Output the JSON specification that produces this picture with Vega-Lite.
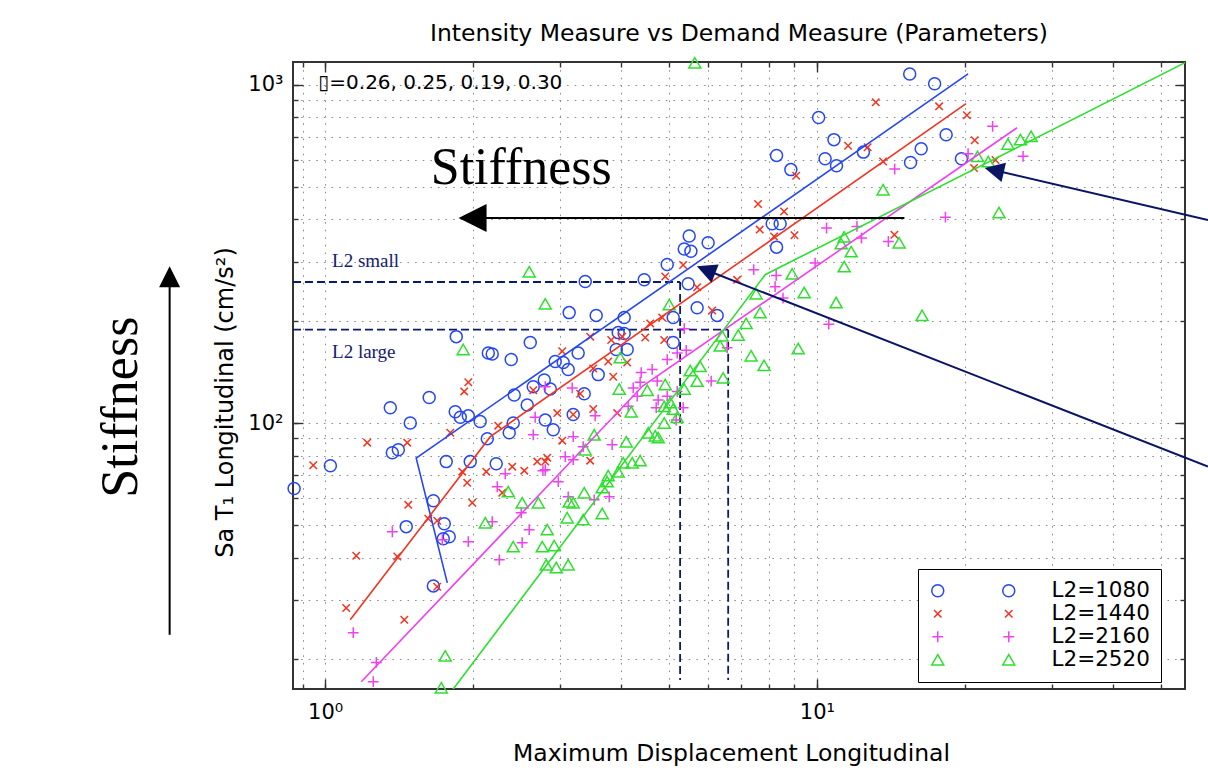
{
  "$schema": "https://vega.github.io/schema/vega-lite/v6.json",
  "width": 892,
  "height": 627,
  "autosize": {"type": "none"},
  "padding": {"left": 293, "top": 62, "right": 23, "bottom": 86},
  "background": "white",
  "title": {
    "text": "Intensity Measure vs Demand Measure (Parameters)",
    "font": "DejaVu Sans",
    "fontSize": 23.5,
    "fontWeight": "normal",
    "color": "black",
    "anchor": "middle",
    "frame": "group",
    "baseline": "alphabetic",
    "offset": 20,
    "dy": 30
  },
  "config": {
    "view": {"stroke": "#333333", "strokeWidth": 2},
    "axis": {
      "domain": false,
      "tickColor": "#333333",
      "tickWidth": 1.4,
      "labelFont": "DejaVu Sans",
      "labelFontSize": 21,
      "labelColor": "black",
      "labelFlush": false,
      "labelOverlap": false,
      "labelBound": false,
      "titleFont": "DejaVu Sans",
      "titleFontSize": 23.5,
      "titleFontWeight": "normal",
      "titleColor": "black",
      "gridColor": "#8c8c8c",
      "gridDash": [1.6, 6],
      "gridWidth": 1,
      "gridOpacity": 1
    }
  },
  "datasets": {
    "markers": [
      {"series": "L2=1080", "disp": 15.44, "sa": 1076}, {"series": "L2=1080", "disp": 17.35, "sa": 1007},
      {"series": "L2=1080", "disp": 10.08, "sa": 800}, {"series": "L2=1080", "disp": 10.83, "sa": 688},
      {"series": "L2=1080", "disp": 8.278, "sa": 618}, {"series": "L2=1080", "disp": 8.851, "sa": 561},
      {"series": "L2=1080", "disp": 10.39, "sa": 604}, {"series": "L2=1080", "disp": 10.96, "sa": 576},
      {"series": "L2=1080", "disp": 12.43, "sa": 632}, {"series": "L2=1080", "disp": 18.31, "sa": 711},
      {"series": "L2=1080", "disp": 16.29, "sa": 647}, {"series": "L2=1080", "disp": 15.5, "sa": 589},
      {"series": "L2=1080", "disp": 19.67, "sa": 604}, {"series": "L2=1080", "disp": 8.11, "sa": 388},
      {"series": "L2=1080", "disp": 8.418, "sa": 388}, {"series": "L2=1080", "disp": 8.278, "sa": 331},
      {"series": "L2=1080", "disp": 5.499, "sa": 357}, {"series": "L2=1080", "disp": 5.373, "sa": 327},
      {"series": "L2=1080", "disp": 5.543, "sa": 322}, {"series": "L2=1080", "disp": 6.009, "sa": 341},
      {"series": "L2=1080", "disp": 4.961, "sa": 294}, {"series": "L2=1080", "disp": 4.455, "sa": 265},
      {"series": "L2=1080", "disp": 3.38, "sa": 262}, {"series": "L2=1080", "disp": 5.473, "sa": 258},
      {"series": "L2=1080", "disp": 5.707, "sa": 219}, {"series": "L2=1080", "disp": 6.268, "sa": 208},
      {"series": "L2=1080", "disp": 3.135, "sa": 212}, {"series": "L2=1080", "disp": 3.558, "sa": 208},
      {"series": "L2=1080", "disp": 4.056, "sa": 205}, {"series": "L2=1080", "disp": 5.102, "sa": 205},
      {"series": "L2=1080", "disp": 3.944, "sa": 185}, {"series": "L2=1080", "disp": 4.056, "sa": 184},
      {"series": "L2=1080", "disp": 5.102, "sa": 173}, {"series": "L2=1080", "disp": 3.908, "sa": 165},
      {"series": "L2=1080", "disp": 4.114, "sa": 165}, {"series": "L2=1080", "disp": 3.27, "sa": 161},
      {"series": "L2=1080", "disp": 2.937, "sa": 152}, {"series": "L2=1080", "disp": 3.049, "sa": 151},
      {"series": "L2=1080", "disp": 3.121, "sa": 144}, {"series": "L2=1080", "disp": 3.592, "sa": 139},
      {"series": "L2=1080", "disp": 2.79, "sa": 134}, {"series": "L2=1080", "disp": 2.87, "sa": 126},
      {"series": "L2=1080", "disp": 3.364, "sa": 122}, {"series": "L2=1080", "disp": 3.195, "sa": 106},
      {"series": "L2=1080", "disp": 2.803, "sa": 102}, {"series": "L2=1080", "disp": 2.91, "sa": 95.5},
      {"series": "L2=1080", "disp": 1.848, "sa": 180}, {"series": "L2=1080", "disp": 2.613, "sa": 173},
      {"series": "L2=1080", "disp": 2.147, "sa": 161}, {"series": "L2=1080", "disp": 2.187, "sa": 160},
      {"series": "L2=1080", "disp": 2.39, "sa": 154}, {"series": "L2=1080", "disp": 2.65, "sa": 128},
      {"series": "L2=1080", "disp": 2.424, "sa": 121}, {"series": "L2=1080", "disp": 2.576, "sa": 113},
      {"series": "L2=1080", "disp": 1.628, "sa": 119}, {"series": "L2=1080", "disp": 1.357, "sa": 111},
      {"series": "L2=1080", "disp": 1.839, "sa": 108}, {"series": "L2=1080", "disp": 1.883, "sa": 104},
      {"series": "L2=1080", "disp": 1.955, "sa": 105}, {"series": "L2=1080", "disp": 1.49, "sa": 100},
      {"series": "L2=1080", "disp": 2.067, "sa": 101}, {"series": "L2=1080", "disp": 2.413, "sa": 100},
      {"series": "L2=1080", "disp": 2.368, "sa": 93.6}, {"series": "L2=1080", "disp": 2.137, "sa": 89.9},
      {"series": "L2=1080", "disp": 1.37, "sa": 81.7}, {"series": "L2=1080", "disp": 1.409, "sa": 83.4},
      {"series": "L2=1080", "disp": 1.025, "sa": 74.8}, {"series": "L2=1080", "disp": 1.763, "sa": 76.9},
      {"series": "L2=1080", "disp": 1.973, "sa": 76.9}, {"series": "L2=1080", "disp": 2.228, "sa": 75.8},
      {"series": "L2=1080", "disp": 1.66, "sa": 58.9}, {"series": "L2=1080", "disp": 1.462, "sa": 49.4},
      {"series": "L2=1080", "disp": 1.747, "sa": 50.4}, {"series": "L2=1080", "disp": 1.739, "sa": 45.5},
      {"series": "L2=1080", "disp": 1.788, "sa": 46.1}, {"series": "L2=1080", "disp": 1.66, "sa": 33.0},
      {"series": "L2=1080", "disp": 0.865, "sa": 64.0},

      {"series": "L2=1440", "disp": 13.17, "sa": 887}, {"series": "L2=1440", "disp": 17.72, "sa": 863},
      {"series": "L2=1440", "disp": 20.18, "sa": 812}, {"series": "L2=1440", "disp": 11.57, "sa": 660},
      {"series": "L2=1440", "disp": 12.68, "sa": 653}, {"series": "L2=1440", "disp": 20.93, "sa": 685},
      {"series": "L2=1440", "disp": 13.63, "sa": 593}, {"series": "L2=1440", "disp": 9.074, "sa": 538},
      {"series": "L2=1440", "disp": 7.59, "sa": 444}, {"series": "L2=1440", "disp": 8.573, "sa": 422},
      {"series": "L2=1440", "disp": 7.65, "sa": 373}, {"series": "L2=1440", "disp": 8.182, "sa": 356},
      {"series": "L2=1440", "disp": 9.002, "sa": 359}, {"series": "L2=1440", "disp": 14.37, "sa": 360},
      {"series": "L2=1440", "disp": 23.07, "sa": 599}, {"series": "L2=1440", "disp": 20.86, "sa": 567},
      {"series": "L2=1440", "disp": 5.345, "sa": 293}, {"series": "L2=1440", "disp": 4.915, "sa": 271},
      {"series": "L2=1440", "disp": 5.707, "sa": 252}, {"series": "L2=1440", "disp": 6.882, "sa": 265},
      {"series": "L2=1440", "disp": 6.124, "sa": 215}, {"series": "L2=1440", "disp": 4.846, "sa": 205},
      {"series": "L2=1440", "disp": 4.581, "sa": 197}, {"series": "L2=1440", "disp": 4.476, "sa": 179},
      {"series": "L2=1440", "disp": 4.892, "sa": 176}, {"series": "L2=1440", "disp": 3.459, "sa": 180},
      {"series": "L2=1440", "disp": 3.817, "sa": 176}, {"series": "L2=1440", "disp": 4.019, "sa": 180},
      {"series": "L2=1440", "disp": 3.035, "sa": 163}, {"series": "L2=1440", "disp": 3.509, "sa": 145},
      {"series": "L2=1440", "disp": 3.853, "sa": 137}, {"series": "L2=1440", "disp": 3.764, "sa": 152},
      {"series": "L2=1440", "disp": 4.114, "sa": 151}, {"series": "L2=1440", "disp": 1.918, "sa": 124},
      {"series": "L2=1440", "disp": 1.955, "sa": 132}, {"series": "L2=1440", "disp": 2.65, "sa": 125},
      {"series": "L2=1440", "disp": 3.301, "sa": 122}, {"series": "L2=1440", "disp": 3.195, "sa": 106},
      {"series": "L2=1440", "disp": 2.965, "sa": 107}, {"series": "L2=1440", "disp": 3.926, "sa": 107},
      {"series": "L2=1440", "disp": 3.509, "sa": 110}, {"series": "L2=1440", "disp": 2.249, "sa": 98.2},
      {"series": "L2=1440", "disp": 1.797, "sa": 93.6}, {"series": "L2=1440", "disp": 1.218, "sa": 87.5},
      {"series": "L2=1440", "disp": 1.469, "sa": 87.5}, {"series": "L2=1440", "disp": 3.035, "sa": 88.7},
      {"series": "L2=1440", "disp": 3.459, "sa": 77.4}, {"series": "L2=1440", "disp": 2.402, "sa": 74.3},
      {"series": "L2=1440", "disp": 2.7, "sa": 76.9}, {"series": "L2=1440", "disp": 2.803, "sa": 76.9},
      {"series": "L2=1440", "disp": 0.946, "sa": 75.0}, {"series": "L2=1440", "disp": 2.829, "sa": 79.0},
      {"series": "L2=1440", "disp": 1.9, "sa": 71.8}, {"series": "L2=1440", "disp": 2.127, "sa": 71.8},
      {"series": "L2=1440", "disp": 2.541, "sa": 72.3}, {"series": "L2=1440", "disp": 1.945, "sa": 66.6},
      {"series": "L2=1440", "disp": 1.476, "sa": 57.3}, {"series": "L2=1440", "disp": 1.621, "sa": 52.1},
      {"series": "L2=1440", "disp": 1.69, "sa": 51.4}, {"series": "L2=1440", "disp": 1.992, "sa": 58.1},
      {"series": "L2=1440", "disp": 2.292, "sa": 62.2}, {"series": "L2=1440", "disp": 1.157, "sa": 40.5},
      {"series": "L2=1440", "disp": 1.402, "sa": 40.3}, {"series": "L2=1440", "disp": 1.69, "sa": 32.8},
      {"series": "L2=1440", "disp": 1.104, "sa": 28.4}, {"series": "L2=1440", "disp": 1.449, "sa": 26.2},

      {"series": "L2=2160", "disp": 22.76, "sa": 753}, {"series": "L2=2160", "disp": 26.25, "sa": 614},
      {"series": "L2=2160", "disp": 14.39, "sa": 563}, {"series": "L2=2160", "disp": 18.25, "sa": 406},
      {"series": "L2=2160", "disp": 10.46, "sa": 377}, {"series": "L2=2160", "disp": 12.06, "sa": 381},
      {"series": "L2=2160", "disp": 12.32, "sa": 352}, {"series": "L2=2160", "disp": 13.97, "sa": 344},
      {"series": "L2=2160", "disp": 9.915, "sa": 297}, {"series": "L2=2160", "disp": 7.438, "sa": 284},
      {"series": "L2=2160", "disp": 8.222, "sa": 253}, {"series": "L2=2160", "disp": 8.533, "sa": 234},
      {"series": "L2=2160", "disp": 10.57, "sa": 196}, {"series": "L2=2160", "disp": 20.29, "sa": 625},
      {"series": "L2=2160", "disp": 8.263, "sa": 273}, {"series": "L2=2160", "disp": 5.373, "sa": 190},
      {"series": "L2=2160", "disp": 6.568, "sa": 167}, {"series": "L2=2160", "disp": 4.961, "sa": 154},
      {"series": "L2=2160", "disp": 5.199, "sa": 161}, {"series": "L2=2160", "disp": 5.423, "sa": 164},
      {"series": "L2=2160", "disp": 4.392, "sa": 141}, {"series": "L2=2160", "disp": 4.624, "sa": 144},
      {"series": "L2=2160", "disp": 4.371, "sa": 132}, {"series": "L2=2160", "disp": 6.095, "sa": 133},
      {"series": "L2=2160", "disp": 4.734, "sa": 133}, {"series": "L2=2160", "disp": 4.231, "sa": 127},
      {"series": "L2=2160", "disp": 4.311, "sa": 120}, {"series": "L2=2160", "disp": 4.756, "sa": 117},
      {"series": "L2=2160", "disp": 4.712, "sa": 111}, {"series": "L2=2160", "disp": 4.961, "sa": 120},
      {"series": "L2=2160", "disp": 5.199, "sa": 124}, {"series": "L2=2160", "disp": 5.346, "sa": 111},
      {"series": "L2=2160", "disp": 5.174, "sa": 102}, {"series": "L2=2160", "disp": 2.803, "sa": 128},
      {"series": "L2=2160", "disp": 3.18, "sa": 127}, {"series": "L2=2160", "disp": 2.674, "sa": 104},
      {"series": "L2=2160", "disp": 3.541, "sa": 105}, {"series": "L2=2160", "disp": 3.195, "sa": 91.1},
      {"series": "L2=2160", "disp": 2.65, "sa": 92.3}, {"series": "L2=2160", "disp": 3.834, "sa": 86.3},
      {"series": "L2=2160", "disp": 4.133, "sa": 112}, {"series": "L2=2160", "disp": 3.195, "sa": 77.9},
      {"series": "L2=2160", "disp": 3.078, "sa": 79.5}, {"series": "L2=2160", "disp": 3.348, "sa": 85.1},
      {"series": "L2=2160", "disp": 2.803, "sa": 72.8}, {"series": "L2=2160", "disp": 2.979, "sa": 67.1},
      {"series": "L2=2160", "disp": 3.121, "sa": 60.5}, {"series": "L2=2160", "disp": 3.525, "sa": 59.3},
      {"series": "L2=2160", "disp": 3.782, "sa": 60.5}, {"series": "L2=2160", "disp": 2.324, "sa": 70.8},
      {"series": "L2=2160", "disp": 2.773, "sa": 72.3}, {"series": "L2=2160", "disp": 2.239, "sa": 64.8},
      {"series": "L2=2160", "disp": 1.37, "sa": 47.7}, {"series": "L2=2160", "disp": 2.187, "sa": 51.1},
      {"series": "L2=2160", "disp": 2.505, "sa": 54.3}, {"series": "L2=2160", "disp": 2.6, "sa": 48.4},
      {"series": "L2=2160", "disp": 2.516, "sa": 44.3}, {"series": "L2=2160", "disp": 1.955, "sa": 44.6},
      {"series": "L2=2160", "disp": 1.731, "sa": 45.2}, {"series": "L2=2160", "disp": 2.261, "sa": 39.4},
      {"series": "L2=2160", "disp": 1.141, "sa": 24.0}, {"series": "L2=2160", "disp": 1.271, "sa": 19.6},
      {"series": "L2=2160", "disp": 1.253, "sa": 17.2},

      {"series": "L2=2520", "disp": 5.645, "sa": 1160}, {"series": "L2=2520", "disp": 24.45, "sa": 668},
      {"series": "L2=2520", "disp": 25.93, "sa": 688}, {"series": "L2=2520", "disp": 27.25, "sa": 704},
      {"series": "L2=2520", "disp": 21.21, "sa": 614}, {"series": "L2=2520", "disp": 22.3, "sa": 593},
      {"series": "L2=2520", "disp": 13.63, "sa": 489}, {"series": "L2=2520", "disp": 23.45, "sa": 419},
      {"series": "L2=2520", "disp": 11.36, "sa": 355}, {"series": "L2=2520", "disp": 11.2, "sa": 339},
      {"series": "L2=2520", "disp": 11.74, "sa": 321}, {"series": "L2=2520", "disp": 14.69, "sa": 341},
      {"series": "L2=2520", "disp": 11.36, "sa": 290}, {"series": "L2=2520", "disp": 8.904, "sa": 276},
      {"series": "L2=2520", "disp": 9.419, "sa": 243}, {"series": "L2=2520", "disp": 10.94, "sa": 227},
      {"series": "L2=2520", "disp": 16.36, "sa": 208}, {"series": "L2=2520", "disp": 7.521, "sa": 241},
      {"series": "L2=2520", "disp": 7.664, "sa": 212}, {"series": "L2=2520", "disp": 7.179, "sa": 197},
      {"series": "L2=2520", "disp": 6.918, "sa": 182}, {"series": "L2=2520", "disp": 9.159, "sa": 166},
      {"series": "L2=2520", "disp": 7.348, "sa": 158}, {"series": "L2=2520", "disp": 7.808, "sa": 148},
      {"series": "L2=2520", "disp": 5.008, "sa": 224}, {"series": "L2=2520", "disp": 3.981, "sa": 156},
      {"series": "L2=2520", "disp": 2.803, "sa": 225}, {"series": "L2=2520", "disp": 2.6, "sa": 280},
      {"series": "L2=2520", "disp": 1.909, "sa": 165}, {"series": "L2=2520", "disp": 6.416, "sa": 181},
      {"series": "L2=2520", "disp": 6.357, "sa": 169}, {"series": "L2=2520", "disp": 6.446, "sa": 136},
      {"series": "L2=2520", "disp": 5.788, "sa": 147}, {"series": "L2=2520", "disp": 5.525, "sa": 143},
      {"series": "L2=2520", "disp": 5.707, "sa": 133}, {"series": "L2=2520", "disp": 4.915, "sa": 130},
      {"series": "L2=2520", "disp": 5.373, "sa": 126}, {"series": "L2=2520", "disp": 4.518, "sa": 125},
      {"series": "L2=2520", "disp": 4.892, "sa": 112}, {"series": "L2=2520", "disp": 5.031, "sa": 115},
      {"series": "L2=2520", "disp": 5.102, "sa": 110}, {"series": "L2=2520", "disp": 5.199, "sa": 104},
      {"series": "L2=2520", "disp": 4.892, "sa": 100}, {"series": "L2=2520", "disp": 4.539, "sa": 93.6},
      {"series": "L2=2520", "disp": 4.69, "sa": 91.7}, {"series": "L2=2520", "disp": 4.756, "sa": 90.5},
      {"series": "L2=2520", "disp": 4.371, "sa": 77.4}, {"series": "L2=2520", "disp": 4.192, "sa": 108},
      {"series": "L2=2520", "disp": 3.963, "sa": 126}, {"series": "L2=2520", "disp": 4.095, "sa": 88.0},
      {"series": "L2=2520", "disp": 3.525, "sa": 92.3}, {"series": "L2=2520", "disp": 3.38, "sa": 83.4},
      {"series": "L2=2520", "disp": 4.037, "sa": 76.3}, {"series": "L2=2520", "disp": 4.211, "sa": 76.3},
      {"series": "L2=2520", "disp": 3.944, "sa": 71.8}, {"series": "L2=2520", "disp": 3.764, "sa": 69.9},
      {"series": "L2=2520", "disp": 3.746, "sa": 67.1}, {"series": "L2=2520", "disp": 3.659, "sa": 64.4},
      {"series": "L2=2520", "disp": 3.659, "sa": 54.0}, {"series": "L2=2520", "disp": 3.364, "sa": 62.2},
      {"series": "L2=2520", "disp": 3.135, "sa": 58.5}, {"series": "L2=2520", "disp": 3.195, "sa": 58.1},
      {"series": "L2=2520", "disp": 3.106, "sa": 52.5}, {"series": "L2=2520", "disp": 3.348, "sa": 51.8},
      {"series": "L2=2520", "disp": 2.829, "sa": 48.4}, {"series": "L2=2520", "disp": 2.764, "sa": 43.1},
      {"series": "L2=2520", "disp": 2.923, "sa": 43.4}, {"series": "L2=2520", "disp": 2.816, "sa": 38.1},
      {"series": "L2=2520", "disp": 2.951, "sa": 37.4}, {"series": "L2=2520", "disp": 3.121, "sa": 38.1},
      {"series": "L2=2520", "disp": 2.713, "sa": 58.1}, {"series": "L2=2520", "disp": 2.516, "sa": 58.1},
      {"series": "L2=2520", "disp": 2.357, "sa": 62.7}, {"series": "L2=2520", "disp": 2.117, "sa": 50.7},
      {"series": "L2=2520", "disp": 2.413, "sa": 43.1}, {"series": "L2=2520", "disp": 1.755, "sa": 20.5},
      {"series": "L2=2520", "disp": 1.723, "sa": 16.5}
    ],
    "fits": [
      {"series": "L2=1080", "step": 1, "disp": 1.772, "sa": 33.7},
      {"series": "L2=1080", "step": 2, "disp": 1.532, "sa": 78.7},
      {"series": "L2=1080", "step": 3, "disp": 20.29, "sa": 1076},
      {"series": "L2=1440", "step": 1, "disp": 1.125, "sa": 26.2},
      {"series": "L2=1440", "step": 2, "disp": 2.167, "sa": 91.1},
      {"series": "L2=1440", "step": 3, "disp": 20.1, "sa": 879},
      {"series": "L2=2160", "step": 1, "disp": 1.185, "sa": 17.19},
      {"series": "L2=2160", "step": 2, "disp": 4.423, "sa": 128.6},
      {"series": "L2=2160", "step": 3, "disp": 25.52, "sa": 746},
      {"series": "L2=2520", "step": 1, "disp": 1.805, "sa": 16.06},
      {"series": "L2=2520", "step": 2, "disp": 7.847, "sa": 274.4},
      {"series": "L2=2520", "step": 3, "disp": 62.4, "sa": 1257}
    ],
    "thresholds": [
      {"from_disp": 0.8605, "from_sa": 261.1, "to_disp": 5.27, "to_sa": 261.1},
      {"from_disp": 5.27, "from_sa": 261.1, "to_disp": 5.27, "to_sa": 17.4},
      {"from_disp": 0.8605, "from_sa": 188.7, "to_disp": 6.6, "to_sa": 188.7},
      {"from_disp": 6.6, "from_sa": 188.7, "to_disp": 6.6, "to_sa": 17.4}
    ],
    "stiffness_shafts": [
      {"from_disp": 15.06, "from_sa": 403.6, "to_disp": 1.973, "to_sa": 403.6},
      {"from_disp": 0.483, "from_sa": 23.67, "to_disp": 0.483, "to_sa": 265.2}
    ],
    "callout_shafts": [
      {"from_disp": 62.38, "from_sa": 398.0, "to_disp": 22.75, "to_sa": 560.5},
      {"from_disp": 62.38, "from_sa": 74.3, "to_disp": 5.9, "to_sa": 284.7}
    ]
  },
  "layer": [
    {
      "data": {"name": "thresholds"},
      "mark": {"type": "rule", "stroke": "#0c1a6e", "strokeWidth": 1.8, "strokeDash": [8, 4], "clip": false},
      "encoding": {
        "x": {
          "field": "from_disp", "type": "quantitative",
          "scale": {"type": "log", "domain": [0.8605, 56.02], "nice": false},
          "axis": {
            "orient": "bottom",
            "values": [0.9, 1, 2, 3, 4, 5, 6, 7, 8, 9, 10, 20, 30, 40, 50],
            "tickSize": -5, "labels": false, "grid": true, "title": null
          }
        },
        "y": {
          "field": "from_sa", "type": "quantitative",
          "scale": {"type": "log", "domain": [16.36, 1167], "nice": false},
          "axis": {
            "orient": "left",
            "values": [20, 30, 40, 50, 60, 70, 80, 90, 100, 200, 300, 400, 500, 600, 700, 800, 900, 1000],
            "tickSize": -5, "labels": false, "grid": true, "title": null
          }
        },
        "x2": {"field": "to_disp"},
        "y2": {"field": "to_sa"}
      }
    },
    {
      "data": {"name": "markers"},
      "mark": {"type": "point", "filled": false, "size": 144, "strokeWidth": 1.5, "opacity": 1, "clip": false},
      "encoding": {
        "x": {
          "field": "disp", "type": "quantitative",
          "scale": {"type": "log", "domain": [0.8605, 56.02], "nice": false},
          "axis": {
            "orient": "bottom",
            "values": [1, 10],
            "tickSize": -10,
            "labelExpr": "datum.value === 1 ? '10⁰' : '10¹'",
            "labelPadding": 22,
            "grid": false,
            "title": "Maximum Displacement Longitudinal",
            "titlePadding": 19,
            "titleX": 438
          }
        },
        "y": {
          "field": "sa", "type": "quantitative",
          "scale": {"type": "log", "domain": [16.36, 1167], "nice": false},
          "axis": {
            "orient": "left",
            "values": [100, 1000],
            "tickSize": -10,
            "labelExpr": "datum.value === 100 ? '10²' : '10³'",
            "labelPadding": 20,
            "grid": false,
            "title": "Sa T₁ Longitudinal (cm/s²)",
            "titleFontSize": 24,
            "titlePadding": 10,
            "titleY": 340
          }
        },
        "color": {
          "field": "series", "type": "nominal",
          "scale": {"domain": ["L2=1080", "L2=1440", "L2=2160", "L2=2520"], "range": ["#2446f5", "#f5331f", "#f23ff2", "#2ee02e"]},
          "legend": {
            "orient": "none",
            "legendX": 623,
            "legendY": 507,
            "direction": "vertical",
            "title": null,
            "padding": 11,
            "labelFont": "DejaVu Sans",
            "labelFontSize": 21.5,
            "labelExpr": "' '",
            "labelOffset": 32,
            "rowPadding": 0,
            "symbolSize": 144,
            "symbolStrokeWidth": 1.5,
            "zindex": 2
          }
        },
        "shape": {
          "field": "series", "type": "nominal",
          "scale": {"domain": ["L2=1080", "L2=1440", "L2=2160", "L2=2520"], "range": ["circle", "M-0.62,-0.62L0.62,0.62M-0.62,0.62L0.62,-0.62", "M-0.9,0L0.9,0M0,-0.9L0,0.9", "triangle-up"]},
          "legend": null
        }
      }
    },
    {
      "data": {"name": "markers"},
      "mark": {"type": "point", "filled": false, "size": 144, "strokeWidth": 1.5, "opacity": 0, "clip": false},
      "encoding": {
        "x": {"field": "disp", "type": "quantitative", "scale": {"type": "log", "domain": [0.8605, 56.02], "nice": false}, "axis": null},
        "y": {"field": "sa", "type": "quantitative", "scale": {"type": "log", "domain": [16.36, 1167], "nice": false}, "axis": null},
        "color": {
          "field": "series", "type": "nominal",
          "scale": {"domain": ["L2=1080", "L2=1440", "L2=2160", "L2=2520"], "range": ["#2446f5", "#f5331f", "#f23ff2", "#2ee02e"]},
          "legend": {
            "orient": "none",
            "legendX": 625,
            "legendY": 507,
            "direction": "vertical",
            "title": null,
            "fillColor": "white",
            "strokeColor": "black",
            "padding": 11,
            "labelFont": "DejaVu Sans",
            "labelFontSize": 21.5,
            "labelColor": "black",
            "symbolOffset": 69,
            "labelOffset": 32,
            "rowPadding": 0,
            "symbolSize": 144,
            "symbolStrokeWidth": 1.5,
            "symbolOpacity": 1,
            "zindex": 1
          }
        },
        "shape": {
          "field": "series", "type": "nominal",
          "scale": {"domain": ["L2=1080", "L2=1440", "L2=2160", "L2=2520"], "range": ["circle", "M-0.62,-0.62L0.62,0.62M-0.62,0.62L0.62,-0.62", "M-0.9,0L0.9,0M0,-0.9L0,0.9", "triangle-up"]},
          "legend": null
        }
      }
    },
    {
      "data": {"name": "fits"},
      "mark": {"type": "line", "strokeWidth": 1.6, "clip": true},
      "encoding": {
        "x": {
          "field": "disp", "type": "quantitative",
          "scale": {"type": "log", "domain": [0.8605, 56.02], "nice": false},
          "axis": {"orient": "top", "values": [1, 10], "tickSize": -10, "labels": false, "grid": false, "title": null}
        },
        "y": {
          "field": "sa", "type": "quantitative",
          "scale": {"type": "log", "domain": [16.36, 1167], "nice": false},
          "axis": {"orient": "right", "values": [100, 1000], "tickSize": -10, "labels": false, "grid": false, "title": null}
        },
        "color": {
          "field": "series", "type": "nominal",
          "scale": {"domain": ["L2=1080", "L2=1440", "L2=2160", "L2=2520"], "range": ["#2446f5", "#f5331f", "#f23ff2", "#2ee02e"]},
          "legend": null
        },
        "order": {"field": "step", "type": "quantitative"}
      }
    },
    {
      "data": {"name": "stiffness_shafts"},
      "mark": {"type": "rule", "stroke": "black", "strokeWidth": 2, "clip": false},
      "encoding": {
        "x": {
          "field": "from_disp", "type": "quantitative",
          "scale": {"type": "log", "domain": [0.8605, 56.02], "nice": false},
          "axis": {
            "orient": "top",
            "values": [0.9, 1, 2, 3, 4, 5, 6, 7, 8, 9, 10, 20, 30, 40, 50],
            "tickSize": -5, "labels": false, "grid": false, "title": null
          }
        },
        "y": {
          "field": "from_sa", "type": "quantitative",
          "scale": {"type": "log", "domain": [16.36, 1167], "nice": false},
          "axis": {
            "orient": "right",
            "values": [20, 30, 40, 50, 60, 70, 80, 90, 100, 200, 300, 400, 500, 600, 700, 800, 900, 1000],
            "tickSize": -5, "labels": false, "grid": false, "title": null
          }
        },
        "x2": {"field": "to_disp"},
        "y2": {"field": "to_sa"}
      }
    },
    {
      "data": {"name": "callout_shafts"},
      "mark": {"type": "rule", "stroke": "#0a1464", "strokeWidth": 2, "clip": false},
      "encoding": {
        "x": {"field": "from_disp", "type": "quantitative", "scale": {"type": "log", "domain": [0.8605, 56.02], "nice": false}, "axis": null},
        "y": {"field": "from_sa", "type": "quantitative", "scale": {"type": "log", "domain": [16.36, 1167], "nice": false}, "axis": null},
        "x2": {"field": "to_disp"},
        "y2": {"field": "to_sa"}
      }
    },
    {
      "data": {"values": [{"disp": 1.868, "sa": 403.6}]},
      "mark": {"type": "point", "shape": "M0,0L2,-1L2,1Z", "filled": true, "color": "black", "size": 784, "angle": 0, "opacity": 1, "strokeWidth": 0, "clip": false},
      "encoding": {
        "x": {"field": "disp", "type": "quantitative", "scale": {"type": "log", "domain": [0.8605, 56.02], "nice": false}, "axis": null},
        "y": {"field": "sa", "type": "quantitative", "scale": {"type": "log", "domain": [16.36, 1167], "nice": false}, "axis": null}
      }
    },
    {
      "data": {"values": [{"disp": 0.483, "sa": 290.4}]},
      "mark": {"type": "point", "shape": "M0,0L2,-1L2,1Z", "filled": true, "color": "black", "size": 441, "angle": 90, "opacity": 1, "strokeWidth": 0, "clip": false},
      "encoding": {
        "x": {"field": "disp", "type": "quantitative", "scale": {"type": "log", "domain": [0.8605, 56.02], "nice": false}, "axis": null},
        "y": {"field": "sa", "type": "quantitative", "scale": {"type": "log", "domain": [16.36, 1167], "nice": false}, "axis": null}
      }
    },
    {
      "data": {"values": [{"disp": 21.93, "sa": 567.3}]},
      "mark": {"type": "point", "shape": "M0,0L2,-1L2,1Z", "filled": true, "color": "#0a1464", "size": 384, "angle": 13, "opacity": 1, "strokeWidth": 0, "clip": false},
      "encoding": {
        "x": {"field": "disp", "type": "quantitative", "scale": {"type": "log", "domain": [0.8605, 56.02], "nice": false}, "axis": null},
        "y": {"field": "sa", "type": "quantitative", "scale": {"type": "log", "domain": [16.36, 1167], "nice": false}, "axis": null}
      }
    },
    {
      "data": {"values": [{"disp": 5.7, "sa": 290.4}]},
      "mark": {"type": "point", "shape": "M0,0L2,-1L2,1Z", "filled": true, "color": "#0a1464", "size": 384, "angle": 21.4, "opacity": 1, "strokeWidth": 0, "clip": false},
      "encoding": {
        "x": {"field": "disp", "type": "quantitative", "scale": {"type": "log", "domain": [0.8605, 56.02], "nice": false}, "axis": null},
        "y": {"field": "sa", "type": "quantitative", "scale": {"type": "log", "domain": [16.36, 1167], "nice": false}, "axis": null}
      }
    },
    {
      "data": {"values": [{"disp": 2.505, "sa": 509.9, "text": "Stiffness"}]},
      "mark": {"type": "text", "font": "Liberation Serif", "fontSize": 52, "color": "black", "align": "center", "baseline": "alphabetic", "clip": false},
      "encoding": {
        "x": {"field": "disp", "type": "quantitative", "scale": {"type": "log", "domain": [0.8605, 56.02], "nice": false}, "axis": null},
        "y": {"field": "sa", "type": "quantitative", "scale": {"type": "log", "domain": [16.36, 1167], "nice": false}, "axis": null},
        "text": {"field": "text"}
      }
    },
    {
      "data": {"values": [{"disp": 0.4144, "sa": 111.4, "text": "Stiffness"}]},
      "mark": {"type": "text", "font": "Liberation Serif", "fontSize": 52, "color": "black", "align": "center", "baseline": "alphabetic", "angle": 270, "clip": false},
      "encoding": {
        "x": {"field": "disp", "type": "quantitative", "scale": {"type": "log", "domain": [0.8605, 56.02], "nice": false}, "axis": null},
        "y": {"field": "sa", "type": "quantitative", "scale": {"type": "log", "domain": [16.36, 1167], "nice": false}, "axis": null},
        "text": {"field": "text"}
      }
    },
    {
      "data": {"values": [{"disp": 1.033, "sa": 288.8, "text": "L2 small"}, {"disp": 1.033, "sa": 156.0, "text": "L2 large"}]},
      "mark": {"type": "text", "font": "Liberation Serif", "fontSize": 19, "color": "#14206e", "align": "left", "baseline": "alphabetic", "clip": false},
      "encoding": {
        "x": {"field": "disp", "type": "quantitative", "scale": {"type": "log", "domain": [0.8605, 56.02], "nice": false}, "axis": null},
        "y": {"field": "sa", "type": "quantitative", "scale": {"type": "log", "domain": [16.36, 1167], "nice": false}, "axis": null},
        "text": {"field": "text"}
      }
    },
    {
      "data": {"values": [{"disp": 0.9687, "sa": 971.2, "text": "▯=0.26, 0.25, 0.19, 0.30"}]},
      "mark": {"type": "text", "font": "DejaVu Sans", "fontSize": 20, "color": "black", "align": "left", "baseline": "alphabetic", "clip": false},
      "encoding": {
        "x": {"field": "disp", "type": "quantitative", "scale": {"type": "log", "domain": [0.8605, 56.02], "nice": false}, "axis": null},
        "y": {"field": "sa", "type": "quantitative", "scale": {"type": "log", "domain": [16.36, 1167], "nice": false}, "axis": null},
        "text": {"field": "text"}
      }
    }
  ],
  "resolve": {
    "axis": {"x": "independent", "y": "independent"},
    "scale": {"color": "independent", "shape": "independent"}
  }
}
